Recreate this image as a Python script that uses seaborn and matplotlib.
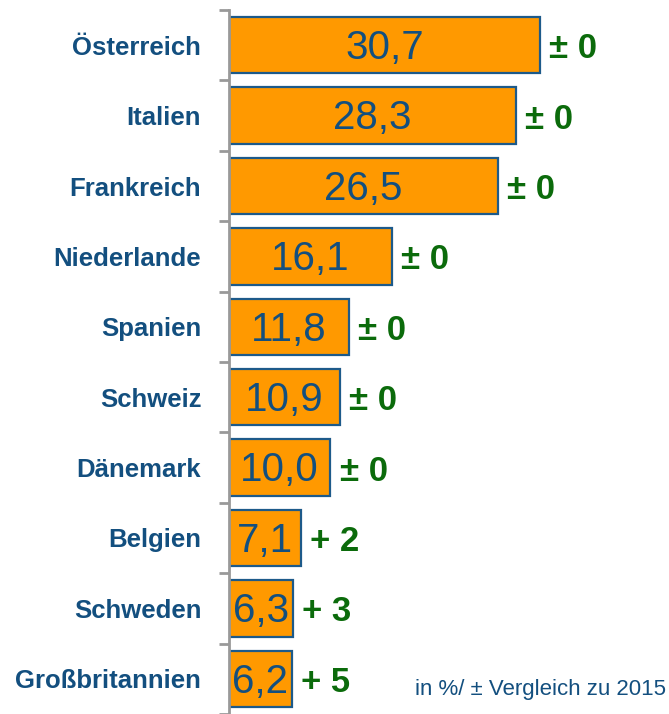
import matplotlib
matplotlib.use("Agg")
import matplotlib.pyplot as plt
import numpy as np
import pandas as pd
import seaborn as sns

countries = ['Österreich', 'Italien', 'Frankreich', 'Niederlande', 'Spanien',
             'Schweiz', 'Dänemark', 'Belgien', 'Schweden', 'Großbritannien']
values = [30.7, 28.3, 26.5, 16.1, 11.8, 10.9, 10.0, 7.1, 6.3, 6.2]
changes = ['± 0', '± 0', '± 0', '± 0', '± 0', '± 0', '± 0', '+ 2', '+ 3', '+ 5']
note = 'in %/ ± Vergleich zu 2015'

blue = '#134f7f'
green = '#0b6b0b'
orange = '#ff9900'

sns.set_theme(style='white')
plt.rcParams['font.family'] = ['Liberation Sans', 'DejaVu Sans']

df = pd.DataFrame({'land': countries, 'wert': values})

fig = plt.figure(figsize=(6.69, 7.14), dpi=100)
ax = fig.add_axes([229 / 669, 0, 440 / 669, 704 / 714])

sns.barplot(data=df, x='wert', y='land', orient='h', color=orange, saturation=1,
            width=0.8, edgecolor='#1d5a8a', linewidth=1.6, ax=ax)

ax.set_xlim(0, 43.4)
ax.set_ylim(9.5, -0.5)
ax.set_xlabel('')
ax.set_ylabel('')
ax.set_xticks([])
for s in ['top', 'right', 'bottom']:
    ax.spines[s].set_visible(False)
ax.spines['left'].set_color('#999999')
ax.spines['left'].set_linewidth(2)

ax.set_yticks(range(len(countries)))
ax.set_yticklabels(countries, color=blue, fontsize=18.5, fontweight='bold')
ax.tick_params(axis='y', which='major', length=0, pad=20)
ax.set_yticks(np.arange(-0.5, len(countries), 1), minor=True)
ax.tick_params(axis='y', which='minor', length=7, width=2, color='#999999', left=True)

for i, (v, c) in enumerate(zip(values, changes)):
    ax.text(v / 2, i + 0.04, f'{v:.1f}'.replace('.', ','), ha='center', va='center',
            color=blue, fontsize=29)
    ax.text(v + 0.9, i + 0.05, c, ha='left', va='center', color=green,
            fontsize=25, fontweight='bold')

fig.text(0.995, 0.034, note, ha='right', va='center', color=blue, fontsize=16)

fig.savefig('out.png', dpi=100)
